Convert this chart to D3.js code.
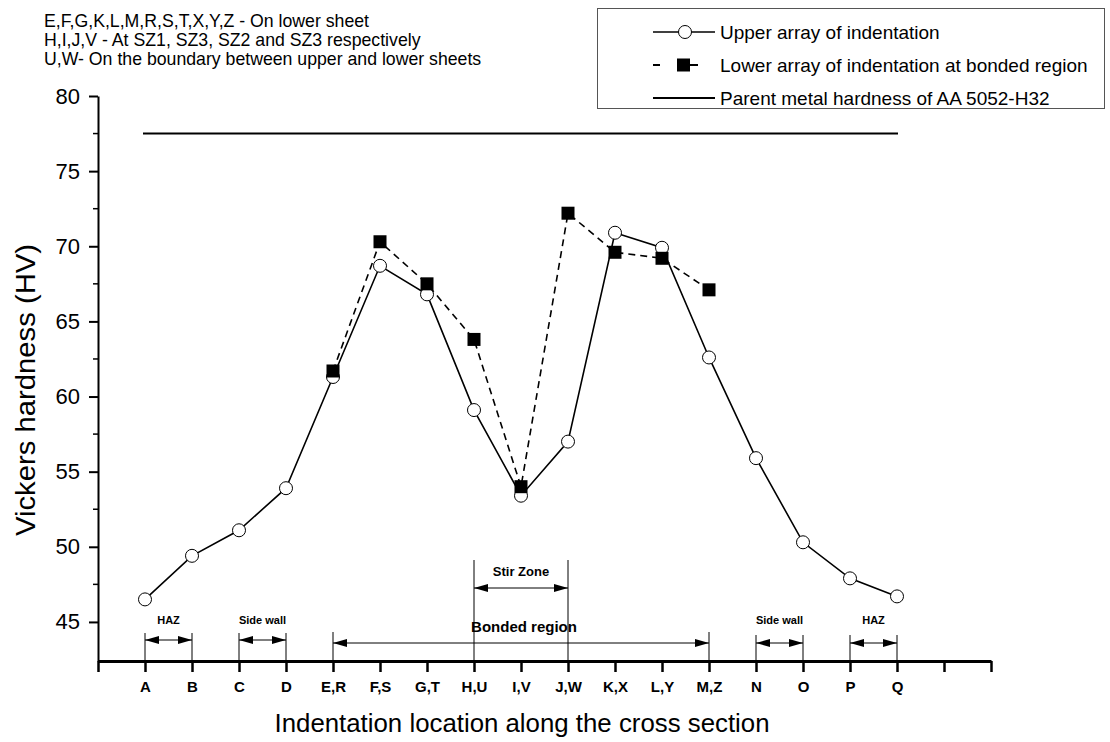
<!DOCTYPE html>
<html>
<head>
<meta charset="utf-8">
<script src="https://cdn.jsdelivr.net/npm/d3@7"></script>
<style>
  html, body { margin: 0; padding: 0; background: #fff; }
  svg { display: block; font-family: "Liberation Sans", Arial, sans-serif; }
</style>
</head>
<body>
<svg id="chart" width="1110" height="742"></svg>
<script>
// Indentation locations (x categories)
const categories = ["A", "B", "C", "D", "E,R", "F,S", "G,T", "H,U", "I,V", "J,W", "K,X", "L,Y", "M,Z", "N", "O", "P", "Q"];

// Upper array of indentation (HV) at A..Q
const upperValues = [46.5, 49.4, 51.1, 53.9, 61.3, 68.7, 66.8, 59.1, 53.4, 57.0, 70.9, 69.9, 62.6, 55.9, 50.3, 47.9, 46.7];

// Lower array of indentation at bonded region (HV) at E,R..M,Z
const lowerCategories = ["E,R", "F,S", "G,T", "H,U", "I,V", "J,W", "K,X", "L,Y", "M,Z"];
const lowerValues = [61.7, 70.3, 67.5, 63.8, 54.0, 72.2, 69.6, 69.2, 67.1];

// Parent metal hardness of AA 5052-H32
const parentHardness = 77.5;

// Y axis ticks
const yTicks = [45, 50, 55, 60, 65, 70, 75, 80];
const yMinorTicks = [47.5, 52.5, 57.5, 62.5, 67.5, 72.5, 77.5];

// Notes
const notes = [
  "E,F,G,K,L,M,R,S,T,X,Y,Z - On lower sheet",
  "H,I,J,V - At SZ1, SZ3, SZ2 and SZ3 respectively",
  "U,W- On the boundary between upper and lower sheets"
];

// Zone annotations
const zones = [
  { from: "A", to: "B", label: "HAZ" },
  { from: "C", to: "D", label: "Side wall" },
  { from: "N", to: "O", label: "Side wall" },
  { from: "P", to: "Q", label: "HAZ" }
];
const bonded = { from: "E,R", to: "M,Z", label: "Bonded region" };
const stir = { from: "H,U", to: "J,W", label: "Stir Zone" };

const svg = d3.select("#chart");

const plot = { left: 98, right: 991, top: 96, bottom: 661 };

// Index positions: 0 and the last two slots are empty positions on the axis
const x = d3.scaleLinear().domain([0, categories.length + 2]).range([plot.left, plot.right]);
const xc = c => x(categories.indexOf(c) + 1);
const y = d3.scaleLinear().domain([42.4, 80]).range([plot.bottom, plot.top]);

// arrowhead marker
const defs = svg.append("defs");
defs.append("marker")
  .attr("id", "arrowEnd")
  .attr("viewBox", "0 0 14 8")
  .attr("refX", 14).attr("refY", 4)
  .attr("markerWidth", 14).attr("markerHeight", 8)
  .attr("markerUnits", "userSpaceOnUse")
  .attr("orient", "auto-start-reverse")
  .append("path").attr("d", "M0,0 L14,4 L0,8 Z").attr("fill", "#000");

// X axis
const xAxis = d3.axisBottom(x)
  .tickValues(d3.range(0, categories.length + 3))
  .tickFormat(i => categories[i - 1] || "")
  .tickSizeInner(11).tickSizeOuter(0).tickPadding(9);
const gx = svg.append("g").attr("transform", `translate(0,${plot.bottom})`).call(xAxis);
gx.select(".domain").attr("stroke-width", 3).attr("stroke", "#000");
gx.selectAll(".tick line").attr("stroke-width", 2.5);
gx.selectAll(".tick text").attr("font-size", 15).attr("font-weight", "bold").attr("fill", "#000")
  .attr("font-family", "Liberation Sans, Arial, sans-serif");

// Y axis
const yAxis = d3.axisLeft(y).tickValues(yTicks).tickSizeInner(9).tickSizeOuter(0).tickPadding(9);
const gy = svg.append("g").attr("transform", `translate(${plot.left},0)`).call(yAxis);
gy.select(".domain").attr("stroke-width", 2).attr("stroke", "#000");
gy.selectAll(".tick line").attr("stroke-width", 2);
gy.selectAll(".tick text").attr("font-size", 22).attr("fill", "#000")
  .attr("font-family", "Liberation Sans, Arial, sans-serif");
gy.append("g").selectAll("line").data(yMinorTicks).join("line")
  .attr("x1", -5).attr("x2", 0).attr("y1", d => y(d)).attr("y2", d => y(d))
  .attr("stroke", "#000").attr("stroke-width", 1.5);

// Axis titles
svg.append("text").attr("x", 522).attr("y", 732).attr("text-anchor", "middle")
  .attr("font-size", 25).attr("textLength", 495).attr("lengthAdjust", "spacingAndGlyphs")
  .text("Indentation location along the cross section");
svg.append("text").attr("transform", "translate(35,390) rotate(-90)").attr("text-anchor", "middle")
  .attr("font-size", 27).attr("textLength", 292).attr("lengthAdjust", "spacingAndGlyphs")
  .text("Vickers hardness (HV)");

// Parent metal hardness
svg.append("line")
  .attr("x1", xc("A") - 2).attr("x2", xc("Q") + 1)
  .attr("y1", y(parentHardness)).attr("y2", y(parentHardness))
  .attr("stroke", "#000").attr("stroke-width", 2);

// Zone annotations
function dimension(g, x1, x2, yLine, yTop, label, labelY, fontSize) {
  g.append("line").attr("x1", x1).attr("x2", x1).attr("y1", plot.bottom).attr("y2", yTop)
    .attr("stroke", "#000").attr("stroke-width", 1);
  g.append("line").attr("x1", x2).attr("x2", x2).attr("y1", plot.bottom).attr("y2", yTop)
    .attr("stroke", "#000").attr("stroke-width", 1);
  g.append("line").attr("x1", x1).attr("x2", x2).attr("y1", yLine).attr("y2", yLine)
    .attr("stroke", "#000").attr("stroke-width", 1)
    .attr("marker-start", "url(#arrowEnd)").attr("marker-end", "url(#arrowEnd)");
  if (label) {
    g.append("text").attr("x", (x1 + x2) / 2).attr("y", labelY).attr("text-anchor", "middle")
      .attr("font-size", fontSize).attr("font-weight", "bold").text(label);
  }
}
const ann = svg.append("g");
zones.forEach((z, i) => {
  const right = i >= 2;
  dimension(ann, xc(z.from), xc(z.to), right ? 643 : 640, right ? 635 : 633, z.label, 624, 11);
});
dimension(ann, xc(bonded.from), xc(bonded.to), 643, 632, null, 0, 14);
ann.append("text").attr("x", 524).attr("y", 632).attr("text-anchor", "middle")
  .attr("font-size", 15).attr("font-weight", "bold").text(bonded.label);
dimension(ann, xc(stir.from), xc(stir.to), 588, 560, stir.label, 576, 13);

// Series
const upper = categories.map((c, i) => ({ x: xc(c), y: y(upperValues[i]) }));
const lower = lowerCategories.map((c, i) => ({ x: xc(c), y: y(lowerValues[i]) }));
const line = d3.line().x(d => d.x).y(d => d.y);

svg.append("path").attr("d", line(upper)).attr("fill", "none")
  .attr("stroke", "#000").attr("stroke-width", 1.6);
svg.append("g").selectAll("circle").data(upper).join("circle")
  .attr("cx", d => d.x).attr("cy", d => d.y).attr("r", 6.5)
  .attr("fill", "#fff").attr("stroke", "#000").attr("stroke-width", 1);

svg.append("path").attr("d", line(lower)).attr("fill", "none")
  .attr("stroke", "#000").attr("stroke-width", 1.6).attr("stroke-dasharray", "7,5");
svg.append("g").selectAll("rect").data(lower).join("rect")
  .attr("x", d => d.x - 6.5).attr("y", d => d.y - 6.5).attr("width", 13).attr("height", 13)
  .attr("fill", "#000");

// Notes block
svg.append("g").selectAll("text").data(notes).join("text")
  .attr("x", 44).attr("y", (d, i) => 27 + i * 19)
  .attr("font-size", 17.7).text(d => d);

// Legend
const lg = svg.append("g");
lg.append("rect").attr("x", 597.5).attr("y", 8.5).attr("width", 507).attr("height", 100)
  .attr("fill", "#fff").attr("stroke", "#555").attr("stroke-width", 1);
const legendItems = [
  { label: "Upper array of indentation", type: "circle" },
  { label: "Lower array of indentation at bonded region", type: "square" },
  { label: "Parent metal hardness of AA 5052-H32", type: "line" }
];
legendItems.forEach((it, i) => {
  const cy = 32 + i * 33;
  if (it.type === "circle") {
    lg.append("line").attr("x1", 653).attr("x2", 715).attr("y1", cy).attr("y2", cy)
      .attr("stroke", "#000").attr("stroke-width", 1.6);
    lg.append("circle").attr("cx", 685).attr("cy", cy).attr("r", 6.5)
      .attr("fill", "#fff").attr("stroke", "#000");
  } else if (it.type === "square") {
    [[653, 660], [690, 698]].forEach(([a, b]) => {
      lg.append("line").attr("x1", a).attr("x2", b).attr("y1", cy).attr("y2", cy)
        .attr("stroke", "#000").attr("stroke-width", 2);
    });
    lg.append("rect").attr("x", 677).attr("y", cy - 6.5).attr("width", 13).attr("height", 13)
      .attr("fill", "#000");
  } else {
    lg.append("line").attr("x1", 653).attr("x2", 715).attr("y1", cy).attr("y2", cy)
      .attr("stroke", "#000").attr("stroke-width", 2);
  }
  lg.append("text").attr("x", 720).attr("y", cy + 7).attr("font-size", 19).text(it.label);
});
</script>
</body>
</html>
